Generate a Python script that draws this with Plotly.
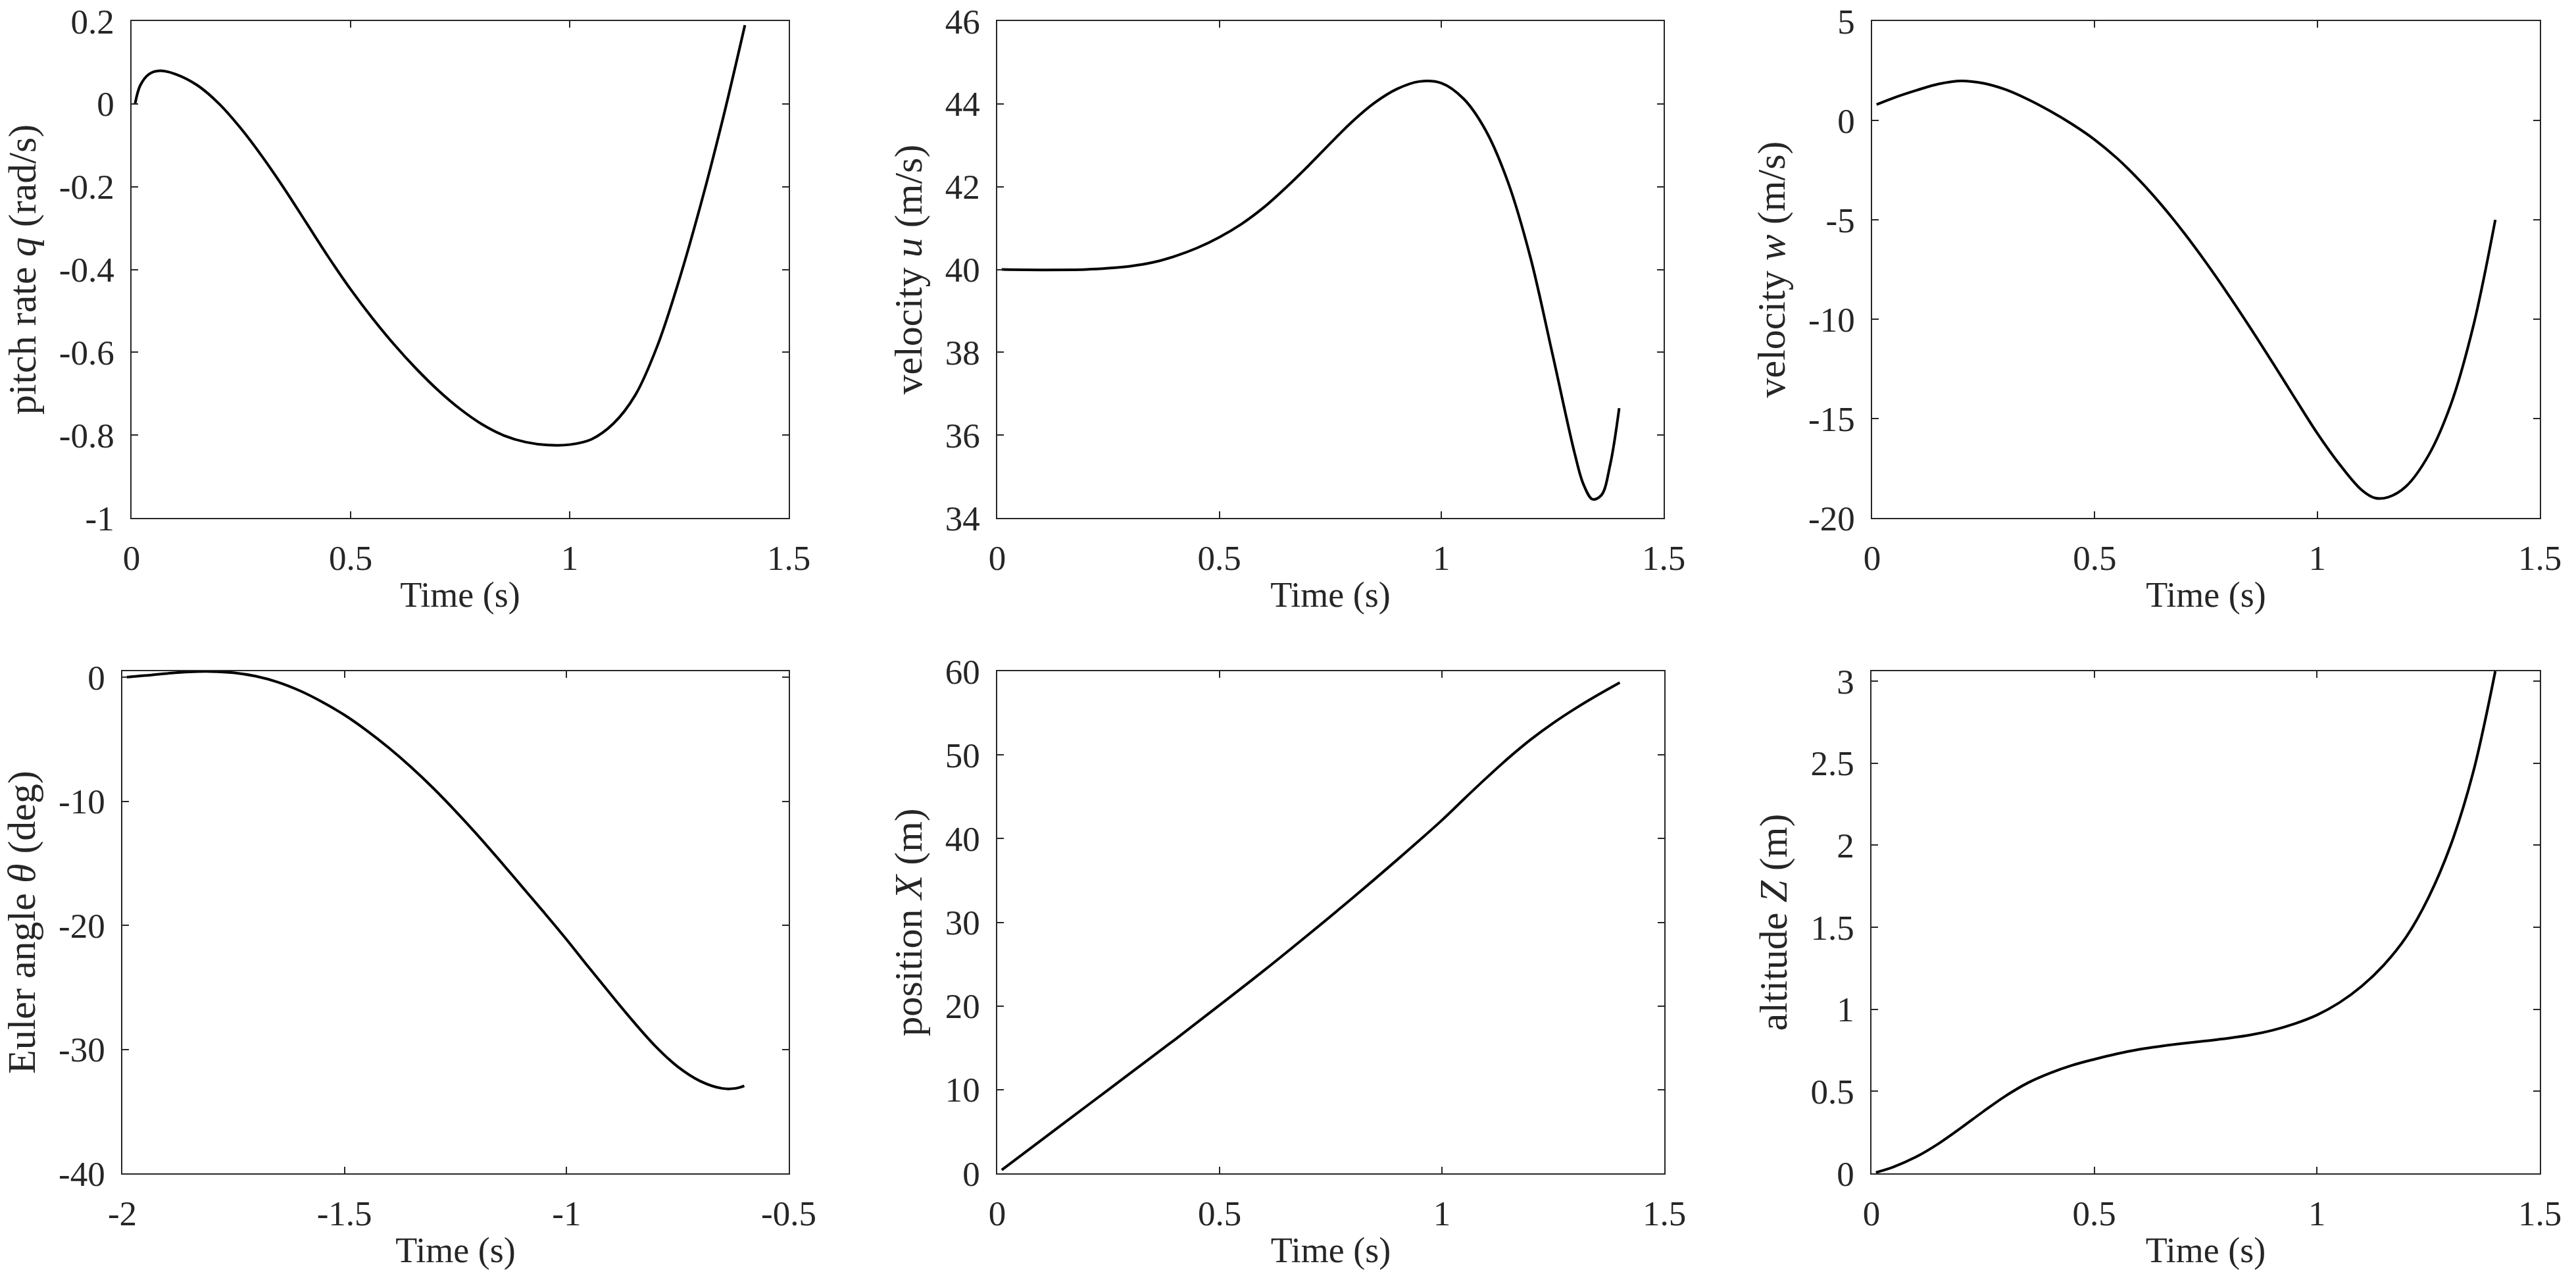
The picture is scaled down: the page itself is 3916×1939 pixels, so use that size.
import plotly.graph_objects as go

W, H = 3916, 1939          # picture size

# ---------------- data ----------------
t_q = [0.008, 0.02, 0.04, 0.065, 0.1, 0.15, 0.2, 0.25, 0.3, 0.35, 0.4, 0.45, 0.5, 0.55, 0.6,
       0.65, 0.7, 0.75, 0.8, 0.85, 0.9, 0.95, 1.0, 1.05, 1.1, 1.15, 1.2, 1.25, 1.3, 1.35, 1.4]
pitch_rate_q = [0.0, 0.045, 0.072, 0.08, 0.072, 0.045, 0.0, -0.06, -0.13, -0.207, -0.289, -0.371,
                -0.448, -0.518, -0.582, -0.64, -0.692, -0.737, -0.774, -0.801, -0.817, -0.824,
                -0.823, -0.81, -0.772, -0.703, -0.585, -0.425, -0.24, -0.035, 0.19]

t_u = [0.01, 0.1, 0.2, 0.25, 0.3, 0.35, 0.4, 0.45, 0.5, 0.55, 0.6, 0.65, 0.7, 0.75, 0.8, 0.85,
       0.9, 0.95, 1.0, 1.05, 1.1, 1.15, 1.2, 1.25, 1.3, 1.32, 1.34, 1.36, 1.38, 1.4]
velocity_u = [40.0, 39.99, 40.0, 40.03, 40.08, 40.17, 40.32, 40.52, 40.78, 41.1, 41.5, 41.98,
              42.5, 43.05, 43.58, 44.03, 44.36, 44.54, 44.5, 44.12, 43.35, 42.1, 40.3, 37.95,
              35.55, 34.8, 34.45, 34.55, 35.3, 36.65]

t_w = [0.01, 0.05, 0.1, 0.15, 0.2, 0.25, 0.3, 0.35, 0.4, 0.45, 0.5, 0.55, 0.6, 0.65, 0.7, 0.75,
       0.8, 0.85, 0.9, 0.95, 1.0, 1.05, 1.1, 1.13, 1.16, 1.2, 1.25, 1.3, 1.35, 1.4]
velocity_w = [0.8, 1.15, 1.52, 1.84, 1.99, 1.87, 1.55, 1.06, 0.47, -0.2, -0.97, -1.9, -3.0, -4.25,
              -5.64, -7.15, -8.76, -10.45, -12.2, -13.98, -15.74, -17.3, -18.6, -19.0, -18.95,
              -18.4, -16.85, -14.3, -10.4, -5.0]

t_theta = [-1.99, -1.95, -1.9, -1.85, -1.8, -1.75, -1.7, -1.65, -1.6, -1.55, -1.5, -1.45, -1.4,
           -1.35, -1.3, -1.25, -1.2, -1.15, -1.1, -1.05, -1.0, -0.95, -0.9, -0.85, -0.8, -0.75,
           -0.7, -0.65, -0.62, -0.6]
euler_theta = [0.0, 0.13, 0.3, 0.43, 0.46, 0.36, 0.08, -0.4, -1.1, -2.0, -3.05, -4.3, -5.7, -7.25,
               -8.95, -10.8, -12.75, -14.8, -16.9, -19.0, -21.15, -23.4, -25.6, -27.75, -29.75,
               -31.4, -32.55, -33.15, -33.15, -32.95]

t_x = [0.01, 0.1, 0.2, 0.3, 0.4, 0.5, 0.6, 0.7, 0.8, 0.9, 1.0, 1.05, 1.1, 1.15, 1.2, 1.25, 1.3,
       1.35, 1.4]
position_x = [0.4, 4.0, 8.0, 12.0, 16.0, 20.1, 24.25, 28.55, 32.95, 37.5, 42.2, 44.75, 47.25,
              49.65, 51.85, 53.8, 55.55, 57.15, 58.65]

t_z = [0.01, 0.05, 0.1, 0.15, 0.2, 0.25, 0.3, 0.35, 0.4, 0.45, 0.5, 0.55, 0.6, 0.65, 0.7, 0.75,
       0.8, 0.85, 0.9, 0.95, 1.0, 1.05, 1.1, 1.15, 1.2, 1.25, 1.3, 1.35, 1.4]
altitude_z = [0.005, 0.04, 0.1, 0.18, 0.275, 0.375, 0.47, 0.55, 0.61, 0.658, 0.695, 0.728, 0.755,
              0.775, 0.792, 0.807, 0.823, 0.843, 0.872, 0.912, 0.965, 1.04, 1.14, 1.27, 1.44,
              1.68, 2.0, 2.44, 3.06]

# tick labels
xt_time = [0, 0.5, 1, 1.5]
xt_time_txt = ["0", "0.5", "1", "1.5"]
xt_shift = [-2, -1.5, -1, -0.5]
xt_shift_txt = ["-2", "-1.5", "-1", "-0.5"]
yt_q = [-1, -0.8, -0.6, -0.4, -0.2, 0, 0.2]
yt_q_txt = ["-1", "-0.8", "-0.6", "-0.4", "-0.2", "0", "0.2"]
yt_u = [34, 36, 38, 40, 42, 44, 46]
yt_u_txt = ["34", "36", "38", "40", "42", "44", "46"]
yt_w = [-20, -15, -10, -5, 0, 5]
yt_w_txt = ["-20", "-15", "-10", "-5", "0", "5"]
yt_th = [-40, -30, -20, -10, 0]
yt_th_txt = ["-40", "-30", "-20", "-10", "0"]
yt_x = [0, 10, 20, 30, 40, 50, 60]
yt_x_txt = ["0", "10", "20", "30", "40", "50", "60"]
yt_z = [0, 0.5, 1, 1.5, 2, 2.5, 3]
yt_z_txt = ["0", "0.5", "1", "1.5", "2", "2.5", "3"]

y_titles = ["pitch rate <i>q</i> (rad/s)", "velocity <i>u</i> (m/s)",
            "velocity <i>w</i> (m/s)", "Euler angle <i>θ</i> (deg)",
            "position <i>X</i> (m)", "altitude <i>Z</i> (m)"]
x_title = "Time (s)"

# ---------------- layout geometry (pixels) ----------------
panels = [
    # (x0, x1, y_top, y_bottom)
    (200, 1199, 32, 787),
    (1516, 2529, 32, 787),
    (2846, 3861, 32, 787),
    (186, 1199, 1020, 1783),
    (1516, 2530, 1020, 1783),
    (2845, 3861, 1020, 1783),
]

series = [
    (t_q, pitch_rate_q, [0, 1.5], [-1, 0.2], xt_time, xt_time_txt, yt_q, yt_q_txt),
    (t_u, velocity_u, [0, 1.5], [34, 46], xt_time, xt_time_txt, yt_u, yt_u_txt),
    (t_w, velocity_w, [0, 1.5], [-20, 5], xt_time, xt_time_txt, yt_w, yt_w_txt),
    (t_theta, euler_theta, [-2, -0.5], [-40, 0.48], xt_shift, xt_shift_txt, yt_th, yt_th_txt),
    (t_x, position_x, [0, 1.5], [0, 60], xt_time, xt_time_txt, yt_x, yt_x_txt),
    (t_z, altitude_z, [0, 1.5], [0, 3.06], xt_time, xt_time_txt, yt_z, yt_z_txt),
]

AX = "#262626"
FONT = "Liberation Serif"

fig = go.Figure()
layout = dict(
    width=W, height=H,
    margin=dict(l=0, r=0, t=0, b=0),
    paper_bgcolor="white", plot_bgcolor="white",
    showlegend=False,
)

for i, ((x0, x1, yt, yb), (xs, ys, xr, yr, xtv, xtt, ytv, ytt)) in enumerate(zip(panels, series)):
    n = "" if i == 0 else str(i + 1)
    fig.add_trace(go.Scatter(
        x=xs, y=ys, mode="lines",
        line=dict(color="black", width=4, shape="spline", smoothing=1.0),
        xaxis="x" + n, yaxis="y" + n, hoverinfo="skip",
    ))
    common = dict(
        showline=True, linecolor=AX, linewidth=1.5, mirror="ticks",
        ticks="inside", ticklen=10, tickwidth=1.5, tickcolor=AX,
        showgrid=False, zeroline=False,
        tickfont=dict(family=FONT, size=53, color=AX),
        ticklabeloverflow="allow",
        automargin=False,
    )
    layout["xaxis" + n] = dict(
        common, domain=[x0 / W, x1 / W], range=xr, anchor="y" + n,
        tickvals=xtv, ticktext=xtt, ticklabelstandoff=14,
        title=dict(text=x_title, font=dict(family=FONT, size=54, color=AX), standoff=8),
    )
    layout["yaxis" + n] = dict(
        common, domain=[1 - yb / H, 1 - yt / H], range=yr, anchor="x" + n,
        tickvals=ytv, ticktext=ytt, ticklabelstandoff=14,
        title=dict(text=y_titles[i], font=dict(family=FONT, size=60, color=AX), standoff=16),
    )

fig.update_layout(layout)
fig.write_html("out.html",
               config={"displayModeBar": False},
               post_script="document.body.style.margin='0px';document.body.style.overflow='hidden';")
